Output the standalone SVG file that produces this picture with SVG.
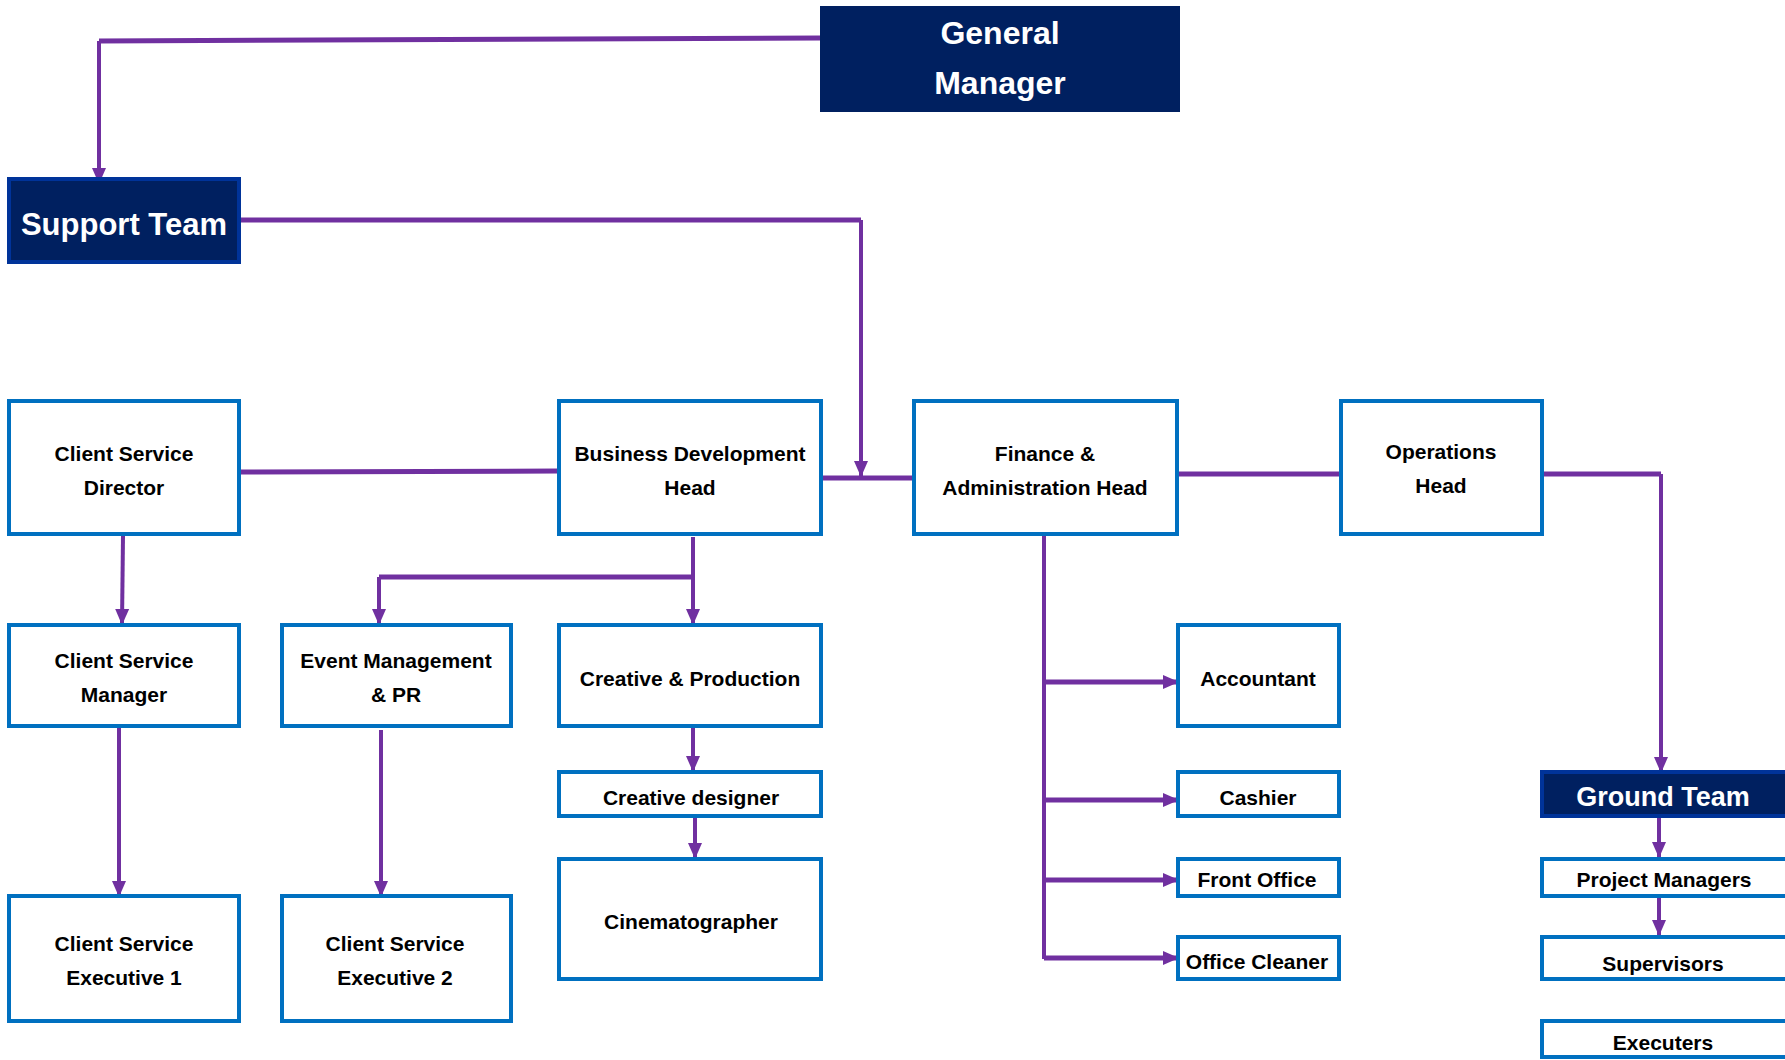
<svg xmlns="http://www.w3.org/2000/svg" width="1785" height="1060" viewBox="0 0 1785 1060">
<style>
.box{fill:#ffffff;stroke:#0070C0;stroke-width:4}
.dark{fill:#002060;stroke:#003399;stroke-width:4}
.t{font-family:"Liberation Sans",Arial,sans-serif;font-weight:bold;font-size:21px;fill:#000;text-anchor:middle;dominant-baseline:central}
.tw{font-family:"Liberation Sans",Arial,sans-serif;font-weight:bold;fill:#fff;text-anchor:middle;dominant-baseline:central}
.c{fill:none;stroke:#7030A0;stroke-width:4}
.c5{fill:none;stroke:#7030A0;stroke-width:5}
</style>
<defs>
<marker id="ah" markerUnits="userSpaceOnUse" markerWidth="16" markerHeight="16" viewBox="0 0 16 16" refX="15" refY="8" orient="auto">
<path d="M0,1 L16,8 L0,15 Z" fill="#7030A0"/>
</marker>
</defs>
<rect width="1785" height="1060" fill="#ffffff"/>

<g id="connectors">
<path class="c5" d="M820,38 L99,41"/>
<path class="c" d="M99,41 L99,183" marker-end="url(#ah)"/>
<path class="c5" d="M240,220 L861,220"/>
<path class="c" d="M861,220 L861,476" marker-end="url(#ah)"/>
<path class="c5" d="M822,478 L913,478"/>
<path class="c5" d="M239,472 L558,471"/>
<path class="c5" d="M1178,474 L1340,474"/>
<path class="c5" d="M1543,474 L1661,474"/>
<path class="c" d="M1661,474 L1661,772" marker-end="url(#ah)"/>
<path class="c" d="M123,536 L122,624" marker-end="url(#ah)"/>
<path class="c" d="M119,728 L119,896" marker-end="url(#ah)"/>
<path class="c" d="M693,537 L693,624" marker-end="url(#ah)"/>
<path class="c5" d="M693,577 L379,577"/>
<path class="c" d="M379,577 L379,624" marker-end="url(#ah)"/>
<path class="c" d="M381,730 L381,896" marker-end="url(#ah)"/>
<path class="c" d="M693,728 L693,771" marker-end="url(#ah)"/>
<path class="c" d="M695,817 L695,858" marker-end="url(#ah)"/>
<path class="c" d="M1044,531 L1044,959"/>
<path class="c5" d="M1044,682 L1178,682" marker-end="url(#ah)"/>
<path class="c5" d="M1044,800 L1178,800" marker-end="url(#ah)"/>
<path class="c5" d="M1044,880 L1178,880" marker-end="url(#ah)"/>
<path class="c5" d="M1044,958 L1178,958" marker-end="url(#ah)"/>
<path class="c" d="M1659,818 L1659,857" marker-end="url(#ah)"/>
<path class="c" d="M1659,892 L1659,935" marker-end="url(#ah)"/>
</g>

<g id="general-manager">
<rect x="820" y="6" width="360" height="106" fill="#002060"/>
<text class="tw" x="1000" y="33" font-size="32">General</text>
<text class="tw" x="1000" y="83" font-size="32">Manager</text>
</g>

<g id="support-team">
<rect class="dark" x="9" y="179" width="230" height="83"/>
<text class="tw" x="124" y="224" font-size="31">Support Team</text>
</g>

<g id="client-service-director">
<rect class="box" x="9" y="401" width="230" height="133"/>
<text class="t" x="124" y="453">Client Service</text>
<text class="t" x="124" y="487">Director</text>
</g>

<g id="business-development-head">
<rect class="box" x="559" y="401" width="262" height="133"/>
<text class="t" x="690" y="453">Business Development</text>
<text class="t" x="690" y="487">Head</text>
</g>

<g id="finance-admin-head">
<rect class="box" x="914" y="401" width="263" height="133"/>
<text class="t" x="1045" y="453">Finance &amp;</text>
<text class="t" x="1045" y="487">Administration Head</text>
</g>

<g id="operations-head">
<rect class="box" x="1341" y="401" width="201" height="133"/>
<text class="t" x="1441" y="451">Operations</text>
<text class="t" x="1441" y="485">Head</text>
</g>

<g id="client-service-manager">
<rect class="box" x="9" y="625" width="230" height="101"/>
<text class="t" x="124" y="660">Client Service</text>
<text class="t" x="124" y="694">Manager</text>
</g>

<g id="event-management-pr">
<rect class="box" x="282" y="625" width="229" height="101"/>
<text class="t" x="396" y="660">Event Management</text>
<text class="t" x="396" y="694">&amp; PR</text>
</g>

<g id="creative-production">
<rect class="box" x="559" y="625" width="262" height="101"/>
<text class="t" x="690" y="678">Creative &amp; Production</text>
</g>

<g id="creative-designer">
<rect class="box" x="559" y="772" width="262" height="44"/>
<text class="t" x="691" y="797">Creative designer</text>
</g>

<g id="cinematographer">
<rect class="box" x="559" y="859" width="262" height="120"/>
<text class="t" x="691" y="921">Cinematographer</text>
</g>

<g id="client-service-executive-1">
<rect class="box" x="9" y="896" width="230" height="125"/>
<text class="t" x="124" y="943">Client Service</text>
<text class="t" x="124" y="977">Executive 1</text>
</g>

<g id="client-service-executive-2">
<rect class="box" x="282" y="896" width="229" height="125"/>
<text class="t" x="395" y="943">Client Service</text>
<text class="t" x="395" y="977">Executive 2</text>
</g>

<g id="accountant">
<rect class="box" x="1178" y="625" width="161" height="101"/>
<text class="t" x="1258" y="678">Accountant</text>
</g>

<g id="cashier">
<rect class="box" x="1178" y="772" width="161" height="44"/>
<text class="t" x="1258" y="797">Cashier</text>
</g>

<g id="front-office">
<rect class="box" x="1178" y="859" width="161" height="37"/>
<text class="t" x="1257" y="879">Front Office</text>
</g>

<g id="office-cleaner">
<rect class="box" x="1178" y="937" width="161" height="42"/>
<text class="t" x="1257" y="961">Office Cleaner</text>
</g>

<g id="ground-team">
<rect class="dark" x="1542" y="772" width="260" height="44"/>
<text class="tw" x="1663" y="797" font-size="27">Ground Team</text>
</g>

<g id="project-managers">
<rect class="box" x="1542" y="859" width="260" height="37"/>
<text class="t" x="1664" y="879">Project Managers</text>
</g>

<g id="supervisors">
<rect class="box" x="1542" y="937" width="260" height="42"/>
<text class="t" x="1663" y="963">Supervisors</text>
</g>

<g id="executers">
<rect class="box" x="1542" y="1021" width="260" height="36"/>
<text class="t" x="1663" y="1042">Executers</text>
</g>
</svg>
